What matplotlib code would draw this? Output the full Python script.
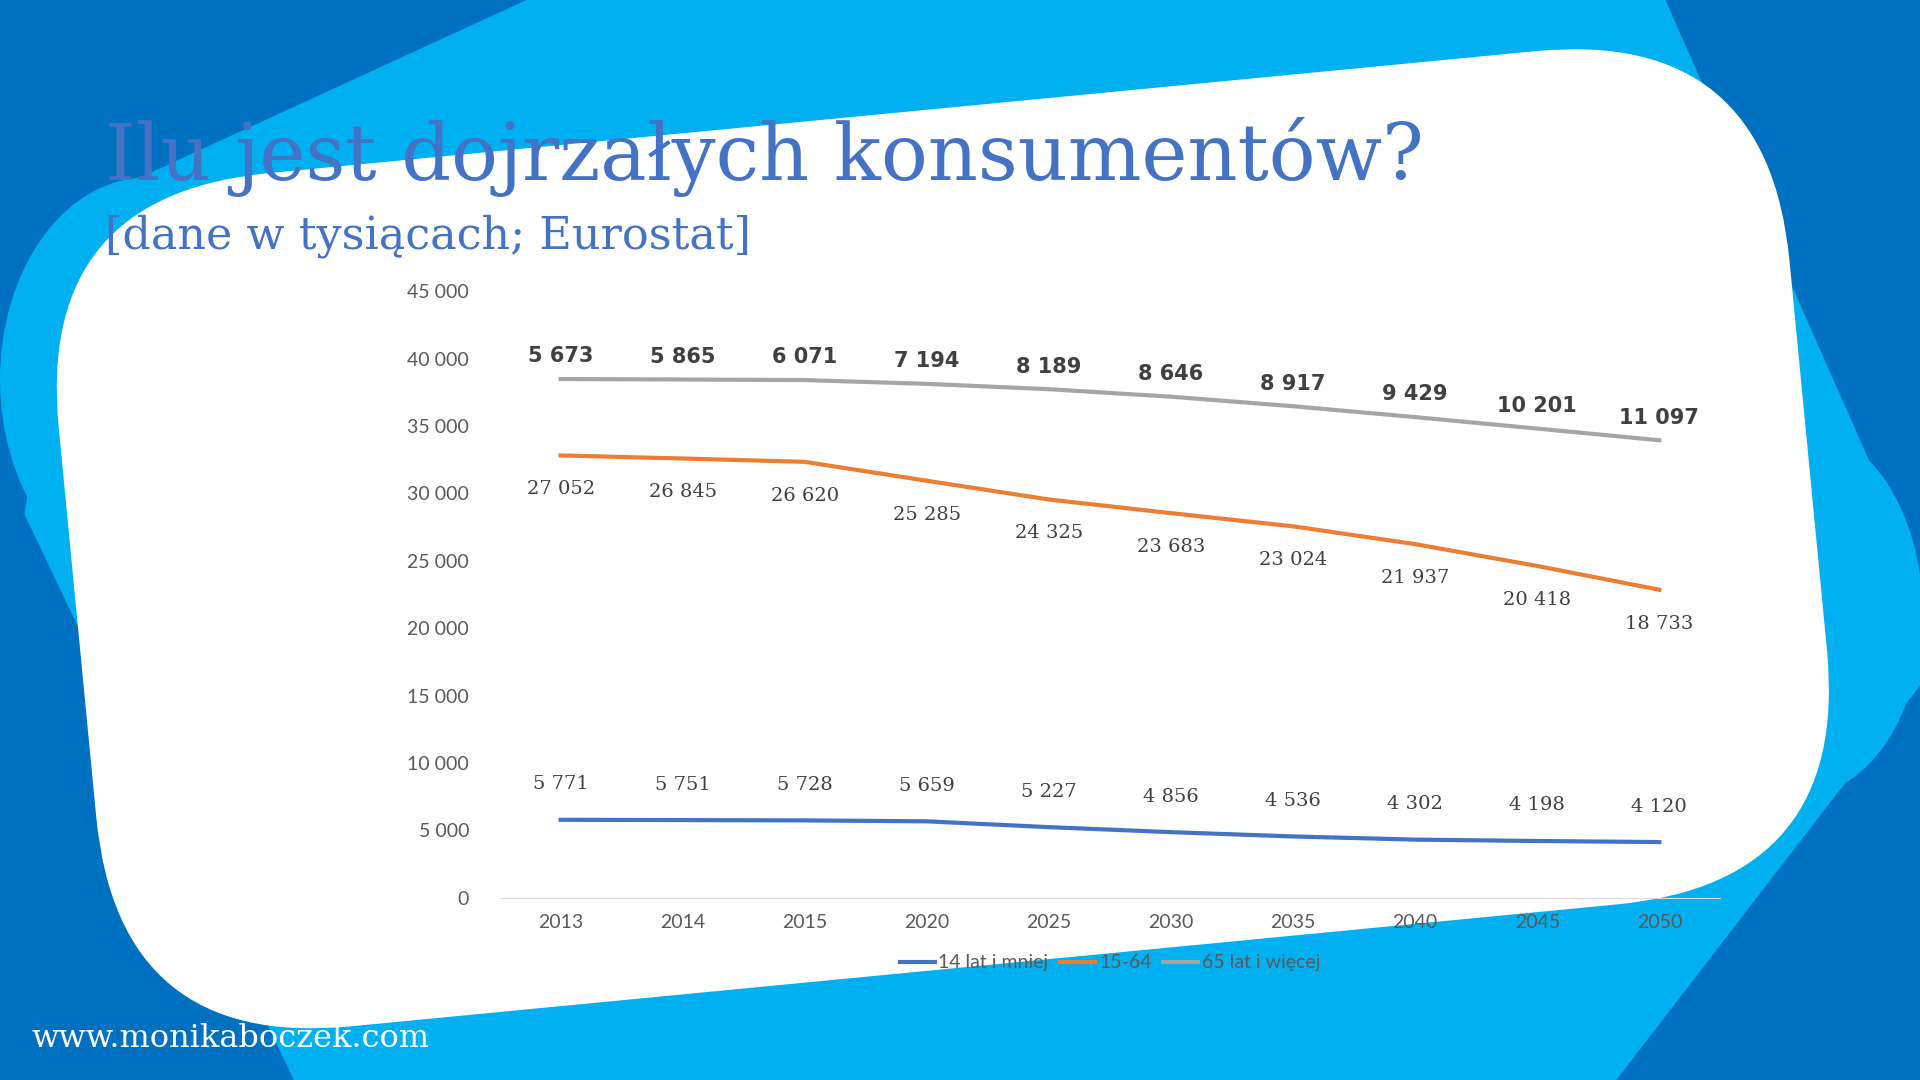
import matplotlib
matplotlib.use("Agg")
import matplotlib.pyplot as plt
import numpy as np
from matplotlib.patches import Polygon, FancyBboxPatch, Ellipse
from matplotlib.transforms import Affine2D

years = ["2013", "2014", "2015", "2020", "2025", "2030", "2035", "2040", "2045", "2050"]
young = [5771, 5751, 5728, 5659, 5227, 4856, 4536, 4302, 4198, 4120]
working = [27052, 26845, 26620, 25285, 24325, 23683, 23024, 21937, 20418, 18733]
senior = [5673, 5865, 6071, 7194, 8189, 8646, 8917, 9429, 10201, 11097]
series_names = ["14 lat i mniej", "15-64", "65 lat i więcej"]

DARK = "#0070C0"
LIGHT = "#00B0F0"
BLUE, ORANGE, GRAY = "#4472C4", "#ED7D31", "#A5A5A5"


def fmt(v):
    return f"{v:,}".replace(",", " ")


fig = plt.figure(figsize=(19.2, 10.8), dpi=100)
fig.patch.set_facecolor(DARK)

# background in reference pixel coordinates (1568 x 882, y down)
bg = fig.add_axes([0, 0, 1, 1])
bg.set_xlim(0, 1568)
bg.set_ylim(882, 0)
bg.axis("off")
bg.add_patch(Polygon([(430, 0), (1360, 0), (1568, 470), (1568, 560), (1320, 882),
                      (240, 882), (20, 420), (60, 170)], closed=True,
                     facecolor=LIGHT, edgecolor="none"))
bg.add_patch(Ellipse((120, 310), 240, 330, facecolor=LIGHT, edgecolor="none"))
bg.add_patch(Ellipse((1470, 500), 200, 300, facecolor=LIGHT, edgecolor="none"))
card = FancyBboxPatch((-710, -350), 1420, 700, boxstyle="round,pad=0,rounding_size=190",
                      facecolor="white", edgecolor="none")
card.set_transform(Affine2D().rotate_deg(-5.5).translate(770, 440) + bg.transData)
bg.add_patch(card)

bg.text(86, 128, "Ilu jest dojrzałych konsumentów?", family="DejaVu Serif",
        fontsize=56, color=BLUE, va="center", ha="left")
bg.text(86, 193, "[dane w tysiącach; Eurostat]", family="DejaVu Serif",
        fontsize=32, color=BLUE, va="center", ha="left")
bg.text(26, 848, "www.monikaboczek.com", family="DejaVu Serif",
        fontsize=23, color="white", va="center", ha="left")

# chart (stacked lines)
ax = fig.add_axes([408 / 1568, 1 - 733 / 882, (1405 - 408) / 1568, (733 - 238) / 882])
ax.patch.set_alpha(0)
x = np.arange(len(years))
c1 = np.array(young)
c2 = c1 + np.array(working)
c3 = c2 + np.array(senior)
ax.plot(x, c1, color=BLUE, lw=3, label=series_names[0])
ax.plot(x, c2, color=ORANGE, lw=3, label=series_names[1])
ax.plot(x, c3, color=GRAY, lw=3, label=series_names[2])

for i in x:
    ax.annotate(fmt(young[i]), (i, c1[i]), xytext=(0, 22), textcoords="offset points",
                ha="center", family="DejaVu Serif", fontsize=14, color="#404040")
    ax.annotate(fmt(working[i]), (i, c2[i]), xytext=(0, -28), textcoords="offset points",
                ha="center", family="DejaVu Serif", fontsize=14, color="#404040")
    ax.annotate(fmt(senior[i]), (i, c3[i]), xytext=(0, 12), textcoords="offset points",
                ha="center", family="DejaVu Sans", fontweight="bold", fontsize=15,
                color="#404040")

ax.set_xlim(-0.5, len(years) - 0.5)
ax.set_ylim(0, 45000)
ax.set_yticks(range(0, 45001, 5000))
ax.set_yticklabels([fmt(v) for v in range(0, 45001, 5000)])
ax.set_xticks(x)
ax.set_xticklabels(years)
for s in ["top", "right", "left"]:
    ax.spines[s].set_visible(False)
ax.spines["bottom"].set_color("#D9D9D9")
ax.tick_params(length=0, labelsize=14, colors="#595959", pad=12)
for t in ax.get_xticklabels() + ax.get_yticklabels():
    t.set_family("Lato")
ax.yaxis.set_tick_params(pad=22)
ax.legend(loc="upper center", bbox_to_anchor=(0.5, -0.065), ncol=3, frameon=False,
          prop={"family": "Lato", "size": 14}, labelcolor="#595959",
          handlelength=1.8, columnspacing=0.6, handletextpad=0.2)

fig.savefig("out.png", dpi=100)
